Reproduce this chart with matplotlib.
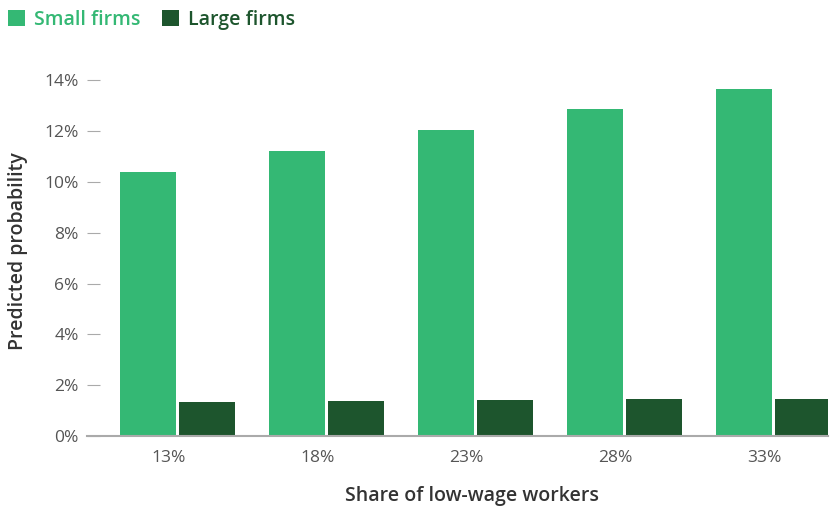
import matplotlib.pyplot as plt
import matplotlib.transforms as mtransforms
import numpy as np

plt.rcParams['font.family'] = ['Open Sans', 'DejaVu Sans']

shares = ['13%', '18%', '23%', '28%', '33%']
small_firms = [10.4, 11.22, 12.05, 12.87, 13.68]
large_firms = [1.33, 1.37, 1.41, 1.45, 1.45]

small_color = '#34b874'
large_color = '#1d552d'

fig = plt.figure(figsize=(8.3, 5.08), dpi=100)
ax = fig.add_axes([0.1048, 0.1417, 0.8928, 0.730])

x = np.arange(len(shares))
w = 0.376
ax.bar(x - 0.198, small_firms, w, color=small_color, label='Small firms')
ax.bar(x + 0.198, large_firms, w, color=large_color, label='Large firms')

ax.set_xlim(-0.607, 4.366)
ax.set_ylim(0, 14.6)
ax.set_yticks(range(0, 15, 2))
ax.set_yticklabels([f'{v}%' for v in range(0, 15, 2)])
ax.set_xticks(x)
ax.set_xticklabels(shares)

for s in ['top', 'right', 'left']:
    ax.spines[s].set_visible(False)
ax.spines['bottom'].set_color('#aaaaaa')
ax.spines['bottom'].set_linewidth(1.5)

ax.tick_params(axis='y', direction='in', length=9, width=0.8, color='#aaaaaa',
               labelsize=12.5, labelcolor='#555555', pad=-4)
ax.tick_params(axis='x', length=0, labelsize=12.5, labelcolor='#555555', pad=10)
# y labels sit left of the inward ticks
for lbl in ax.get_yticklabels():
    lbl.set_transform(lbl.get_transform() + mtransforms.ScaledTranslation(-0.14, 0, fig.dpi_scale_trans))
for lbl in ax.get_xticklabels():
    lbl.set_transform(lbl.get_transform() + mtransforms.ScaledTranslation(-0.09, 0, fig.dpi_scale_trans))

ax.set_ylabel('Predicted probability', fontsize=14, color='#333333', fontweight='semibold')
ax.yaxis.set_label_coords(-0.080, 0.5)
ax.set_xlabel('Share of low-wage workers', fontsize=14, color='#333333', fontweight='semibold')
ax.xaxis.set_label_coords(0.52, -0.135)

leg = fig.legend(loc='upper left', bbox_to_anchor=(-0.012, 1.015), ncol=2, frameon=False,
                 handlelength=0.9, handleheight=0.9, handletextpad=0.45, columnspacing=1.1,
                 prop={'size': 14, 'weight': 'semibold'})
for t, c in zip(leg.get_texts(), [small_color, large_color]):
    t.set_color(c)

fig.savefig('out.png', dpi=100)
